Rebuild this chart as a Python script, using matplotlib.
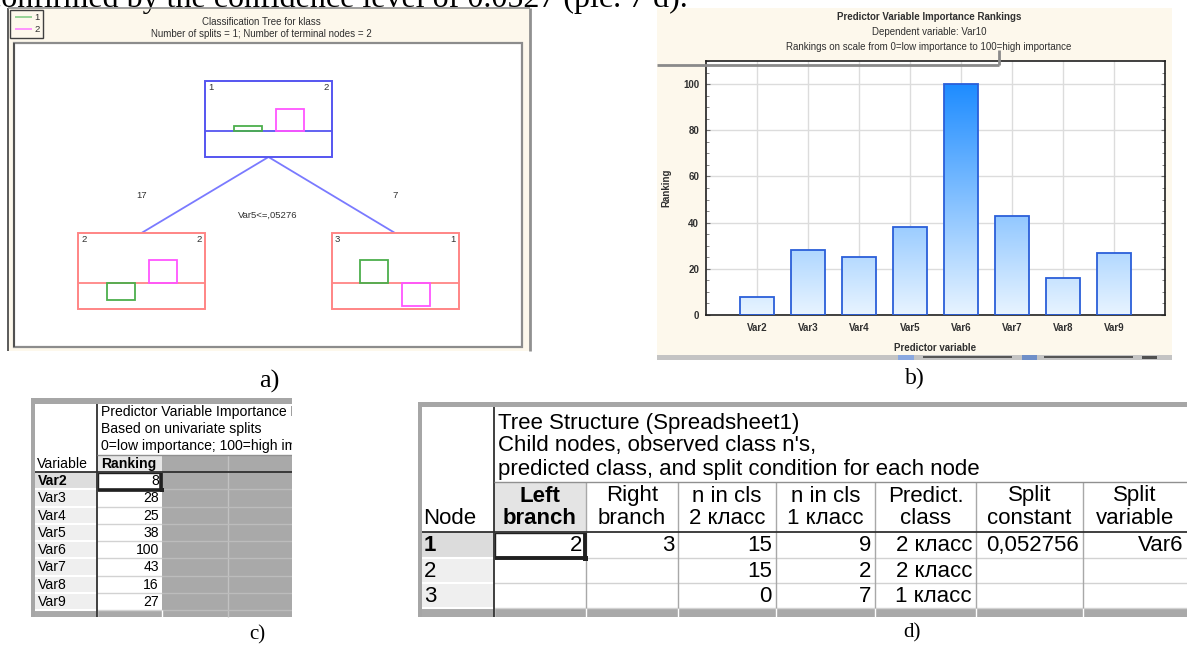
import numpy as np
import matplotlib
matplotlib.use("Agg")
import matplotlib.pyplot as plt
from matplotlib.patches import Rectangle
from matplotlib.colors import LinearSegmentedColormap

# ---------------- data ----------------
variables = ['Var2', 'Var3', 'Var4', 'Var5', 'Var6', 'Var7', 'Var8', 'Var9']
rankings = [8, 28, 25, 38, 100, 43, 16, 27]

tree_node_ids = ['1', '2', '3']
tree_node_class = ['2', '2', '1']
tree_hist_class1 = [5, -17, 23]      # green bars (px-like units)
tree_hist_class2 = [22, 23, -23]     # pink bars
tree_branch_n = ['17', '7']
tree_split = 'Var5<=,05276'

d_nodes = ['1', '2', '3']
d_headers = [('Left', 'branch'), ('Right', 'branch'), ('n in cls', '2 класс'),
             ('n in cls', '1 класс'), ('Predict.', 'class'), ('Split', 'constant'),
             ('Split', 'variable')]
d_left = ['2', '', '']
d_right = ['3', '', '']
d_n2 = ['15', '15', '0']
d_n1 = ['9', '2', '7']
d_pred = ['2 класс', '2 класс', '1 класс']
d_const = ['0,052756', '', '']
d_var = ['Var6', '', '']

SANS = ['Liberation Sans', 'DejaVu Sans']
SERIF = ['Liberation Serif', 'DejaVu Serif']

W, H = 1187, 646
fig = plt.figure(figsize=(W / 100, H / 100), dpi=100)


def px_axes(x0, y0, x1, y1, z=0):
    ax = fig.add_axes([x0 / W, 1 - y1 / H, (x1 - x0) / W, (y1 - y0) / H], zorder=z)
    ax.set_xlim(x0, x1)
    ax.set_ylim(y1, y0)
    ax.axis('off')
    ax.patch.set_alpha(0)
    return ax


def rect(ax, x0, y0, x1, y1, fc='none', ec='none', lw=0, z=1):
    ax.add_patch(Rectangle((x0, y0), x1 - x0, y1 - y0, fc=fc, ec=ec, lw=lw, zorder=z))


def line(ax, xs, ys, c, lw=1, z=3):
    ax.plot(xs, ys, color=c, lw=lw, zorder=z, solid_capstyle='butt')


bg = px_axes(0, 0, W, H, z=0)

# top sentence (cut off by the figure edge, as in the source page)
bg.text(-13, 7, 'confirmed by the confidence level of 0.0527 (pic. 7 d).', family=SERIF,
        fontsize=23, va='baseline', ha='left', color='black')

# ---------------- panel a: tree ----------------
cream = '#fdf8ec'
rect(bg, 8, 8, 530, 351, fc=cream, z=1)
line(bg, [8, 8], [8, 351], '#404040', 1.2)
line(bg, [8, 530], [8, 8], '#909090', 1.2)
line(bg, [530, 530], [8, 351], '#909090', 2)
rect(bg, 14, 43, 522, 347, fc='white', ec='#8c8c8c', lw=1.6, z=2)
line(bg, [14, 14], [43, 347], '#505050', 1.4)
# legend
rect(bg, 10, 10, 43, 38, fc=cream, ec='#404040', lw=1, z=3)
line(bg, [15, 32], [17, 17], '#8fd08f', 1.3, z=4)
line(bg, [15, 32], [29, 29], '#ff8cff', 1.3, z=4)
bg.text(34, 17, '1', family=SANS, fontsize=6.8, va='center', color='#303030')
bg.text(34, 29, '2', family=SANS, fontsize=6.8, va='center', color='#303030')
bg.text(261, 22, 'Classification Tree for klass', family=SANS, fontsize=7,
        ha='center', va='center', color='#303030')
bg.text(261, 34, 'Number of splits = 1; Number of terminal nodes = 2', family=SANS,
        fontsize=7, ha='center', va='center', color='#303030')

node_cx = [268.5, 141.5, 395]
node_top = [81, 233, 233]
node_w, node_h, node_mid = 127, 76, 50
node_col = ['#5555f0', '#ff8585', '#ff8585']
for i in range(3):
    x0 = node_cx[i] - node_w / 2
    y0 = node_top[i]
    rect(bg, x0, y0, x0 + node_w, y0 + node_h, fc='white', ec=node_col[i], lw=1.4, z=3)
    line(bg, [x0, x0 + node_w], [y0 + node_mid, y0 + node_mid], node_col[i], 1.3, z=4)
    bg.text(x0 + 3, y0 + 6, tree_node_ids[i], family=SANS, fontsize=6.8, va='center',
            color='#303030', zorder=5)
    bg.text(x0 + node_w - 3, y0 + 6, tree_node_class[i], family=SANS, fontsize=6.8,
            va='center', ha='right', color='#303030', zorder=5)
    base = y0 + node_mid
    for off, hgt, col in [(-21, tree_hist_class1[i], '#4caf4c'),
                          (21, tree_hist_class2[i], '#ff55ff')]:
        bx = node_cx[i] + off - 14
        rect(bg, bx, base - max(hgt, 0), bx + 28, base + max(-hgt, 0), fc='none',
             ec=col, lw=1.3, z=4)

root_bottom = node_top[0] + node_h
for j, ci in enumerate([1, 2]):
    line(bg, [node_cx[0], node_cx[ci]], [root_bottom, node_top[ci]], '#7a7aff', 1.3, z=2)
    bg.text(node_cx[ci], 195, tree_branch_n[j], family=SANS, fontsize=6.8, ha='center',
            va='center', color='#303030')
bg.text(268, 215, tree_split, family=SANS, fontsize=6.8, ha='center', va='center',
        color='#303030')

bg.text(269, 381, 'a)', family=SERIF, fontsize=19, ha='center', va='center')

# ---------------- panel b: bar chart ----------------
rect(bg, 657, 8, 1172, 355, fc=cream, z=1)
rect(bg, 657, 355, 1172, 360, fc='#c4c4c4', z=1)
line(bg, [923, 1012], [356.5, 356.5], '#404040', 1.2)
line(bg, [1044, 1133], [356.5, 356.5], '#404040', 1.2)
rect(bg, 1022, 355, 1037, 360, fc='#6f8fc8', z=2)
rect(bg, 898, 355, 914, 360, fc='#8aa8e0', z=2)
rect(bg, 1142, 355.5, 1157, 359, fc='#505050', z=2)
bg.text(929, 17, 'Predictor Variable Importance Rankings', family=SANS, fontsize=7,
        fontweight='bold', ha='center', va='center', color='#303030')
bg.text(929, 32, 'Dependent variable: Var10', family=SANS, fontsize=7,
        ha='center', va='center', color='#303030')
bg.text(929, 47.5, 'Rankings on scale from 0=low importance to 100=high importance',
        family=SANS, fontsize=7, ha='center', va='center', color='#303030')
bg.text(915, 378, 'b)', family=SERIF, fontsize=17, ha='center', va='center')

axb = fig.add_axes([706 / W, 1 - 315 / H, (1165 - 706) / W, (315 - 61) / H], zorder=1)
xpos = np.arange(1, len(variables) + 1)
cmap = LinearSegmentedColormap.from_list('g', ['#e8f4ff', '#1e8cff'])
bars = axb.bar(xpos, rankings, width=0.66, color='none', edgecolor='#2b5fd9', lw=1.3, zorder=3)
grad = np.linspace(0, 1, 256).reshape(-1, 1)
for b in bars:
    x0 = b.get_x()
    im = axb.imshow(grad, extent=[x0, x0 + b.get_width(), 0, 100], origin='lower',
                    cmap=cmap, aspect='auto', zorder=2, interpolation='bilinear')
    im.set_clip_path(b)
axb.set_xlim(0, 9)
axb.set_ylim(0, 110)
axb.set_xticks(xpos)
axb.set_xticklabels(variables)
axb.set_yticks([0, 20, 40, 60, 80, 100])
axb.set_yticks(np.arange(0, 111, 5), minor=True)
axb.grid(True, color='#dcdcdc', lw=1, zorder=0)
axb.set_axisbelow(True)
axb.tick_params(axis='x', length=0, pad=6)
axb.tick_params(axis='y', which='both', direction='in', right=True, length=3, pad=5,
                color='#707070')
axb.tick_params(axis='y', which='minor', length=2)
for lab in axb.get_xticklabels() + axb.get_yticklabels():
    lab.set_family(SANS)
    lab.set_fontsize(7)
    lab.set_fontweight('bold')
    lab.set_color('#303030')
for s in axb.spines.values():
    s.set_linewidth(1.2)
    s.set_color('#202020')
axb.set_xlabel('Predictor variable', family=SANS, fontsize=7, fontweight='bold',
               color='#303030', labelpad=7)
axb.set_ylabel('Ranking', family=SANS, fontsize=7, fontweight='bold',
               color='#303030', labelpad=8)

ov = px_axes(0, 0, W, H, z=5)
line(ov, [657, 999], [65, 65], '#8a8a8a', 2)
line(ov, [999, 999], [50, 65], '#8a8a8a', 2)

# ---------------- panel c: table ----------------
FC = 10.1
tc = px_axes(30, 396, 292, 619, z=2)
rect(tc, 31, 398, 292, 404, fc='#a6a6a6', z=1)
rect(tc, 31, 398, 35, 617, fc='#a6a6a6', z=1)
rect(tc, 35, 404, 292, 472, fc='white', z=1)
rect(tc, 97, 455, 162, 472, fc='#e6e6e6', z=2)
rect(tc, 162, 455, 292, 617, fc='#a9a9a9', z=2)
line(tc, [228, 228], [455, 617], '#c2c2c2', 1, z=3)
row_h = (610 - 472) / 8
for i, v in enumerate(variables):
    y0 = 472 + i * row_h
    y1 = y0 + row_h
    rect(tc, 35, y0, 97, y1, fc='#dddddd' if i == 0 else '#efefef', z=2)
    rect(tc, 97, y0, 162, y1, fc='white', z=2)
    line(tc, [35, 97], [y1, y1], 'white', 1.5, z=3)
    line(tc, [97, 162], [y1, y1], '#d2d2d2', 1, z=3)
    line(tc, [162, 292], [y1, y1], '#bcbcbc', 1, z=3)
    tc.text(38, (y0 + y1) / 2 + 0.5, v, family=SANS, fontsize=FC, va='center',
            fontweight='bold' if i == 0 else 'normal', zorder=5)
    tc.text(159, (y0 + y1) / 2 + 0.5, str(rankings[i]), family=SANS, fontsize=FC,
            va='center', ha='right', zorder=5)
rect(tc, 35, 610, 292, 617, fc='#a9a9a9', z=2)
line(tc, [97, 97], [610, 617], 'white', 1, z=3)
line(tc, [162, 162], [610, 617], 'white', 1, z=3)
line(tc, [97, 97], [404, 617], '#303030', 1.3, z=4)
line(tc, [97, 292], [455, 455], '#909090', 1, z=4)
line(tc, [35, 292], [472, 472], '#303030', 1.3, z=4)
# selected cell
rect(tc, 98, 472.5, 161, 489.5, ec='#202020', lw=1, z=5)
line(tc, [98, 162], [489.5, 489.5], '#202020', 2.6, z=6)
line(tc, [161, 161], [472.5, 490], '#202020', 2.6, z=6)
rect(tc, 159.5, 487.5, 164, 492, fc='#202020', z=7)
for k, t in enumerate(['Predictor Variable Importance Rankings', 'Based on univariate splits',
                       '0=low importance; 100=high importance']):
    tc.text(101, 412 + 17 * k, t, family=SANS, fontsize=FC, va='center', clip_on=True,
            zorder=5)
tc.text(37, 464, 'Variable', family=SANS, fontsize=FC, va='center', zorder=5)
tc.text(101, 464, 'Ranking', family=SANS, fontsize=FC, va='center', fontweight='bold',
        zorder=5)
bg.text(257, 635, 'c)', family=SERIF, fontsize=15, ha='center', va='center')

# ---------------- panel d: table ----------------
FD = 16
td = px_axes(418, 400, W, 619, z=2)
xs = [494, 586, 678, 776, 875, 976, 1083, 1187]
rect(td, 418, 402, W, 407, fc='#a6a6a6', z=1)
rect(td, 418, 402, 422, 617, fc='#a6a6a6', z=1)
rect(td, 422, 407, W, 532, fc='white', z=1)
rect(td, xs[0], 482, xs[1], 532, fc='#e4e4e4', z=2)
drow = [532, 557.5, 583, 608]
cols_data = [d_left, d_right, d_n2, d_n1, d_pred, d_const, d_var]
for i, nd in enumerate(d_nodes):
    y0, y1 = drow[i], drow[i + 1]
    rect(td, 422, y0, xs[0], y1, fc='#dcdcdc' if i == 0 else '#efefef', z=2)
    rect(td, xs[0], y0, W, y1, fc='white', z=2)
    line(td, [422, xs[0]], [y1, y1], 'white', 1.5, z=3)
    line(td, [xs[0], W], [y1, y1], '#d2d2d2', 1, z=3)
    td.text(424, (y0 + y1) / 2 + 1, nd, family=SANS, fontsize=FD, va='center',
            fontweight='bold' if i == 0 else 'normal', zorder=5)
    for c, col in enumerate(cols_data):
        if col[i]:
            td.text(xs[c + 1] - 4, (y0 + y1) / 2 + 1, col[i], family=SANS, fontsize=FD,
                    va='center', ha='right', zorder=5, clip_on=True)
rect(td, 422, 608, W, 617, fc='#a9a9a9', z=2)
for c in range(len(xs) - 1):
    xl = xs[c]
    line(td, [xl, xl], [608, 617], 'white', 1, z=3)
    if c > 0:
        line(td, [xl, xl], [482, 608], '#a8a8a8', 1, z=3)
    hx = (xs[c] + xs[c + 1]) / 2
    for k, t in enumerate(d_headers[c]):
        td.text(hx, 496 + 23 * k, t, family=SANS, fontsize=FD, ha='center', va='center',
                fontweight='bold' if c == 0 else 'normal', zorder=5, clip_on=True)
line(td, [xs[0], xs[0]], [407, 617], '#303030', 1.3, z=4)
line(td, [xs[0], W], [482, 482], '#909090', 1, z=4)
line(td, [422, W], [532, 532], '#303030', 1.3, z=4)
rect(td, xs[0] + 1, 532.5, xs[1] - 1, 557.5, ec='#202020', lw=1, z=5)
line(td, [xs[0] + 1, xs[1]], [557.5, 557.5], '#202020', 2.8, z=6)
line(td, [xs[1] - 1, xs[1] - 1], [532.5, 558], '#202020', 2.8, z=6)
rect(td, xs[1] - 3, 555.5, xs[1] + 2, 560.5, fc='#202020', z=7)
for k, t in enumerate(['Tree Structure (Spreadsheet1)', "Child nodes, observed class n's,",
                       'predicted class, and split condition for each node']):
    td.text(498, 423 + 23 * k, t, family=SANS, fontsize=FD, va='center', zorder=5,
            clip_on=True)
td.text(423, 519, 'Node', family=SANS, fontsize=FD, va='center', zorder=5)
bg.text(912, 633, 'd)', family=SERIF, fontsize=15, ha='center', va='center')

fig.savefig('out.png', dpi=100)
